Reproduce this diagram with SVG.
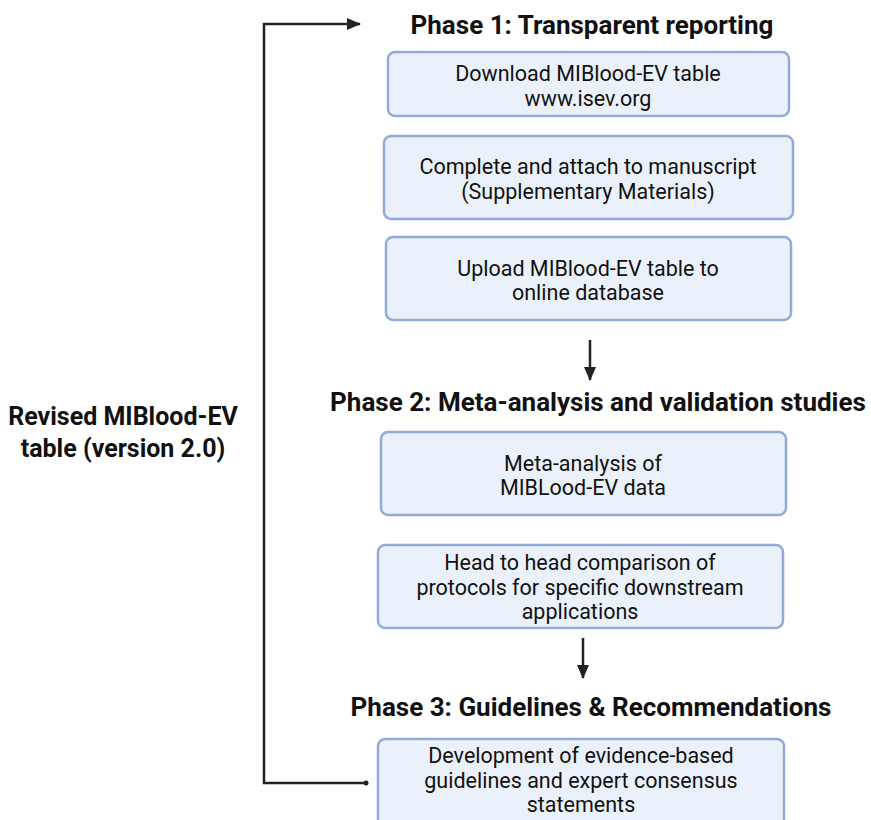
<svg xmlns="http://www.w3.org/2000/svg" width="871" height="820" viewBox="0 0 871 820">
<defs>
<marker id="ah2" markerWidth="14" markerHeight="12" refX="13" refY="6" orient="auto" markerUnits="userSpaceOnUse" viewBox="0 0 14 12">
<path d="M0,0 L14,6 L0,12 z" fill="#222"/>
</marker>
</defs>
<style>
.box{fill:#ebf1fb;stroke:#92aad8;stroke-width:2.5}
.t{font-family:Roboto,"Liberation Sans",sans-serif;font-size:21.5px;fill:#111;text-anchor:middle}
.h{font-family:Roboto,"Liberation Sans",sans-serif;font-size:26px;font-weight:bold;fill:#111;text-anchor:middle}
.lb{font-size:25px}
.ln{fill:none;stroke:#222;stroke-width:2.5}
</style>
<rect width="871" height="820" fill="#fff"/>
<g id="connectors">
<path class="ln" d="M366,783 L264,783 L264,24 L360,24" marker-end="url(#ah2)"/>
<circle cx="366" cy="783" r="2.5" fill="#222"/>
<path class="ln" d="M590,340 L590,380" marker-end="url(#ah2)"/>
<path class="ln" d="M583,638 L583,678" marker-end="url(#ah2)"/>
</g>
<g id="phase1-title"><text class="h" x="592" y="34">Phase 1: Transparent reporting</text></g>
<g id="box1"><rect class="box" x="388" y="52" width="401" height="64" rx="7"/>
<text class="t" x="588" y="81">Download MIBlood-EV table</text>
<text class="t" x="588" y="106">www.isev.org</text></g>
<g id="box2"><rect class="box" x="384" y="136" width="409" height="83" rx="7"/>
<text class="t" x="588" y="174">Complete and attach to manuscript</text>
<text class="t" x="588" y="199">(Supplementary Materials)</text></g>
<g id="box3"><rect class="box" x="386" y="237" width="405" height="83" rx="7"/>
<text class="t" x="588" y="276">Upload MIBlood-EV table to</text>
<text class="t" x="588" y="300">online database</text></g>
<g id="phase2-title"><text class="h" x="598" y="411">Phase 2: Meta-analysis and validation studies</text></g>
<g id="box4"><rect class="box" x="381" y="432" width="405" height="83" rx="7"/>
<text class="t" x="583" y="471">Meta-analysis of</text>
<text class="t" x="583" y="495">MIBLood-EV data</text></g>
<g id="box5"><rect class="box" x="378" y="545" width="405" height="83" rx="7"/>
<text class="t" x="580" y="570">Head to head comparison of</text>
<text class="t" x="580" y="595">protocols for specific downstream</text>
<text class="t" x="580" y="619">applications</text></g>
<g id="phase3-title"><text class="h" x="591" y="716">Phase 3: Guidelines &amp; Recommendations</text></g>
<g id="box6"><rect class="box" x="378" y="739" width="406" height="90" rx="7"/>
<text class="t" x="581" y="763">Development of evidence-based</text>
<text class="t" x="581" y="788">guidelines and expert consensus</text>
<text class="t" x="581" y="812">statements</text></g>
<g id="revised-label">
<text class="h lb" x="123" y="425">Revised MIBlood-EV</text>
<text class="h lb" x="123" y="457">table (version 2.0)</text></g>
</svg>
